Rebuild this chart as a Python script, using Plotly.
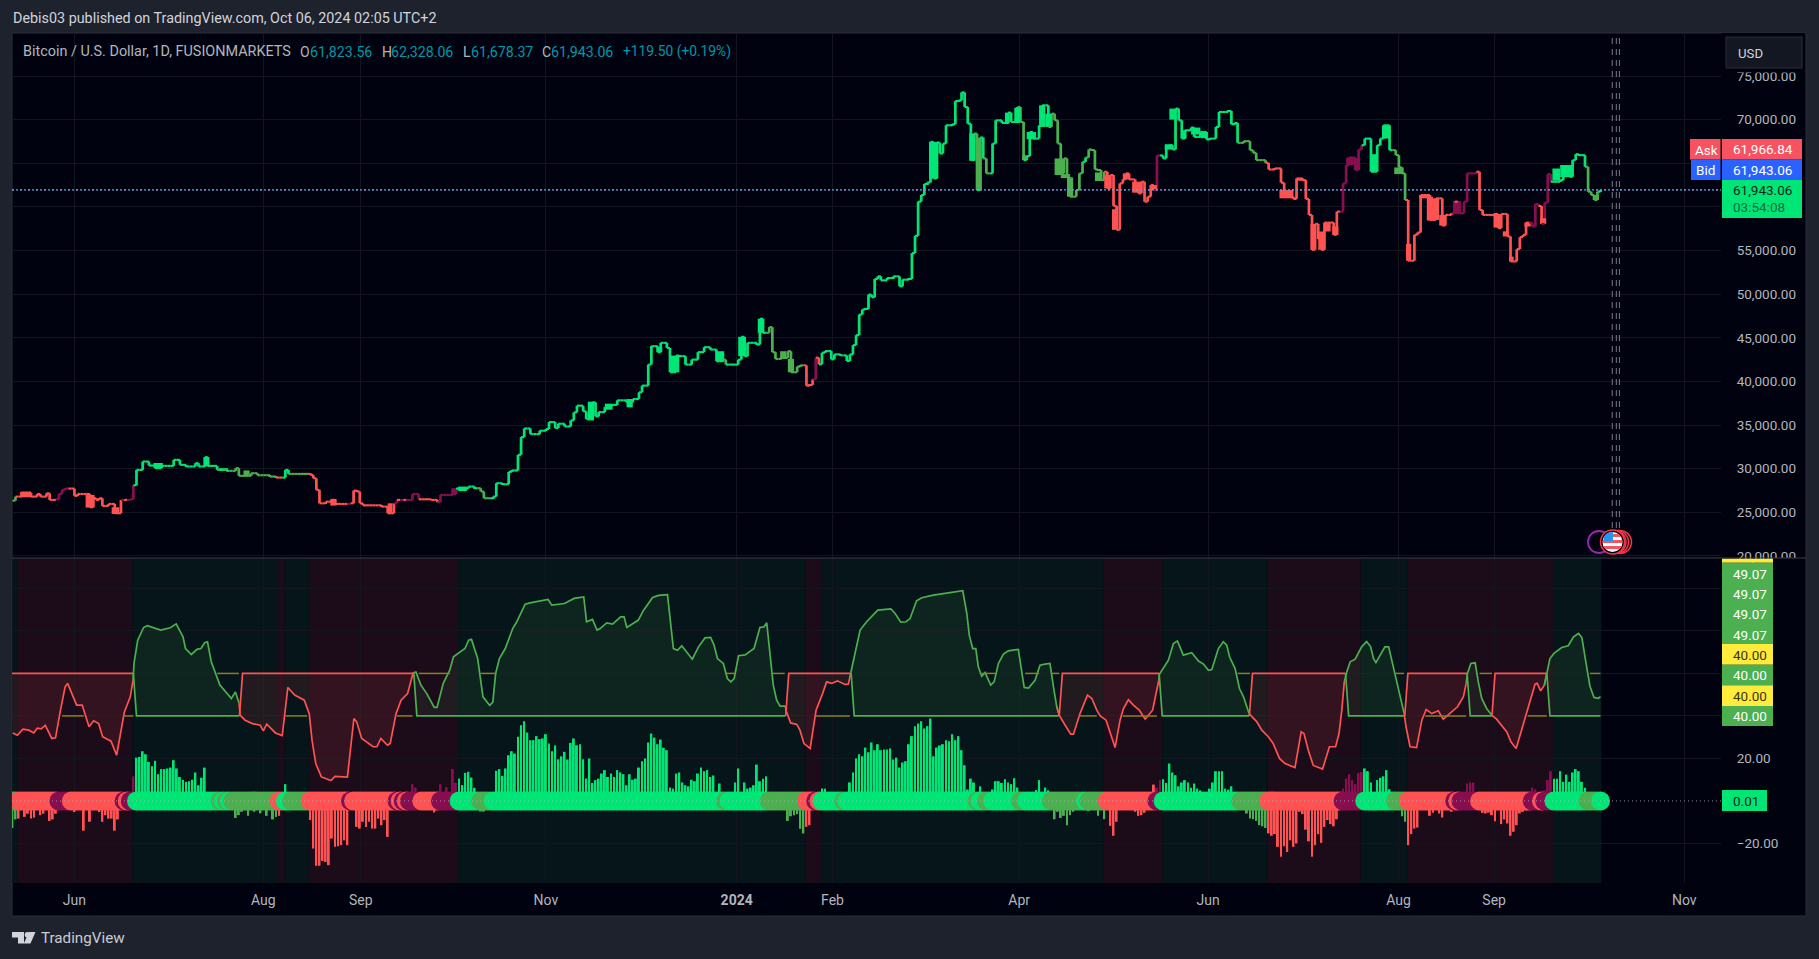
import math
import pandas as pd
import plotly.graph_objects as go

# ---------- data (day = days after the first bar) ----------
FIRST_BAR = "2023-05-11"
LAST_DAY = 513

price_day = [1,2,4,7,9,10,12,13,15,16,17,18,20,21,22,25,26,27,28,29,30,32,34,36,39,40,41,43,45,47,49,53,55,57,60,61,63,64,67,70,73,74,78,80,84,86,89,90,97,98,99,100,102,104,105,110,111,112,113,114,120,122,124,125,129,130,132,136,138,139,143,144,148,150,152,153,156,157,159,161,162,164,165,166,168,171,173,174,176,177,179,181,182,183,185,186,188,189,190,192,194,196,199,201,203,204,206,207,209,210,212,213,215,216,218,220,222,224,226,228,230,231,235,236,237,238,241,242,243,245,246,247,249,251,252,254,255,257,258,259,260,261,262,263,265,266,268,270,271,272,273,274,275,276,277,278,279,280,281,283,285,287,288,290,291,292,293,294,295,296,297,298,299,300,301,302,304,305,306,307,308,309,310,311,312,313,314,315,317,318,320,322,323,325,326,327,328,329,330,332,333,335,336,337,338,339,340,341,342,344,345,346,347,348,349,350,351,352,353,354,355,356,357,358,359,360,361,363,364,365,366,367,368,369,370,372,373,374,375,376,377,378,379,381,382,384,386,387,389,390,393,394,395,396,398,400,401,402,405,406,408,410,411,414,415,417,418,419,420,421,422,423,424,427,428,430,431,432,434,435,436,437,439,441,442,443,445,447,448,449,450,451,453,454,455,458,460,462,463,465,466,467,469,470,473,474,475,479,480,481,483,484,486,487,488,489,491,492,493,494,495,496,497,500,501,503,504,505,506,508,509,510,511,512,513]
price_close = [26340,26800,27260,26800,27100,26800,27180,26420,26490,27100,27570,27720,27720,26880,27100,27100,25580,26610,26420,26610,25730,25960,24890,26420,26490,28100,29860,30820,30360,30060,30320,31010,30440,30250,30630,30250,31320,30320,29860,29750,30060,29180,29480,29250,29100,28980,29860,29400,29290,28900,27570,26030,26220,26420,25960,26030,27490,27380,26030,25800,25650,24890,26030,26420,26420,27100,26490,26420,26150,26990,27100,27720,27950,27760,27380,26610,26800,28330,28220,29630,29790,31590,33620,34610,33960,34350,34540,35340,34650,35150,34840,35530,36450,37220,36570,35690,37600,35990,36490,37060,37300,37830,37600,37980,38750,39520,41930,44040,43350,44420,43840,41050,42960,42890,41930,42500,43350,43920,43650,42310,42500,41930,42500,45110,42890,44420,44230,47180,45570,46220,43350,42580,42700,43460,41050,41700,41840,39500,39600,40240,42720,41960,43290,43480,42530,43100,42980,42340,43100,44160,45300,47660,48240,48310,49950,49640,51740,52040,51580,51850,52040,50900,51660,51740,54700,56680,60600,61360,62620,62810,67450,63260,67370,66120,67260,69350,69470,72130,72200,73120,71450,69540,65360,68400,61930,67950,65550,63840,67260,69920,69620,70800,69730,71450,69730,65360,65810,68590,67830,69350,71640,69160,70680,69920,67260,63840,65550,63380,61170,61930,63840,65170,65660,66580,66500,64290,64220,63070,64030,62120,63650,60110,57370,62690,63150,63840,63150,62690,61550,62880,60600,61170,62500,61930,65890,65550,66960,67070,66580,71260,69920,67830,68780,69090,68020,68590,67720,67830,69160,70880,70990,69470,69620,67340,67530,66500,66200,65360,65050,64290,64410,62770,61170,60910,63260,63070,60910,59080,55080,58050,56300,55080,58200,56800,59460,62690,64790,65660,64220,66580,67070,67830,64030,67070,67830,69350,66500,65930,64520,63840,60790,53830,56800,57060,61360,58510,60980,57860,59080,59270,60600,59270,60600,63840,64030,59650,59080,59190,57560,59190,56610,53750,55160,56530,56800,58200,57750,60330,60110,58050,60490,63760,62880,63070,64410,63460,65360,66040,65930,64600,61740,61360,60790,61740,61943]

# wide solid candle blocks seen in the picture
block_start = [3.5,24.6,33,46.5,63,67.5,75.5,103.5,122,142.5,144.7,186.5,192,199,209,213,228,235,241.3,248.5,251,296.5,309.5,312,321,324,326.5,328,332,334,337,339,341,350,353,355.5,359,362,368,372.5,374,378,381,384,409.5,415,419.5,422,424,426.5,431,433.5,439,443,446.5,450.3,454.5,457,459,461,465.5,478.5,481.5,483.5,488.5,493.5,497.5,500,510.5]
block_end   = [7,27.5,35.5,49.5,64.5,70.5,77.5,105.5,123.5,144.5,147.5,188.5,194.5,201,210.5,216,230.5,237.5,243,250.5,253,299.5,311.5,313.5,322.5,326,328,331,334,336,340,342,343,352,355,357,361,365,370,375,376,379.5,384,386,414,417,421,424,426,428.5,433.5,435.5,441,445,449.5,452,458,459,461,463,468,481,483.5,485,490.5,495.5,500,504,512.5]
block_low   = [26720,25540,24810,30060,30250,29750,29250,25770,24890,27100,27430,35530,36760,37030,43350,41050,42310,42890,45570,42580,41050,63260,65280,61930,69540,69620,65360,67750,69160,69160,63650,63300,61170,62960,62120,57370,63150,61630,61930,66580,70000,67830,68300,67880,60980,63000,55080,55080,57180,56800,64790,64220,64030,67830,63760,53830,60980,58430,58510,57860,59190,57630,56610,53750,57750,58050,63000,63400,60790]
block_high  = [27340,26990,25570,30650,31320,30060,29800,26530,26030,27760,27950,37680,37450,37980,43920,42960,43460,45110,47180,43460,42580,67450,68400,67900,70800,71370,65930,68590,71640,70680,65550,63760,63380,63950,63650,59730,63840,62890,62500,67180,71260,68780,69090,68590,61930,63260,58050,57180,58200,57750,65660,65560,66040,69350,64520,55770,61360,61170,60980,59080,60680,59190,57200,54300,58200,58700,64400,64800,61360]

state_start = [0,3,16,20,37,38,39,41,68,69,70,71,72,87,89,91,97,110,111,125,126,127,128,129,133,139,145,152,156,231,232,245,257,260,261,262,269,270,312,313,315,317,326,328,336,347,348,354,370,372,397,406,430,437,447,451,466,467,468,474,491,494,495,498,509,513]
state_code  = list("ORMRMRMGOGOGORGORMRMRMRMRMGOGOGORMRGOGOGOGOGOGORMGORMGORMRMRMRMGOG")

osc_day = [1.1,2.6,4.4,6.3,7.9,9,10.3,11.6,13.7,14.9,16.5,18,18.8,20,21.7,23.5,24.4,25.7,27.2,28.8,30.1,32.8,34.6,37.1,39,39.9,40.2,41.4,43.3,44.5,46.4,48.8,51.9,53.8,56,56.8,58.7,60.5,61.8,63,63.9,65.1,67.9,69.8,71.6,72.9,74.1,74.4,76,78.4,80.9,81.9,83,85.8,88,89.8,92,95.1,96.7,97.6,98.8,100.6,103.7,105,109,111.1,112,113.6,117.3,118.5,119.8,121.9,122.8,124.7,126.3,128.4,130.2,131.1,132.7,134.6,137,137.9,139.9,142,143.2,146.9,148.1,149,151,152.7,154.9,155.9,156.8,158,159.9,162.3,163.6,166.3,167.9,173.7,174.9,179,182.1,185.2,186.1,188,189.5,190.5,192.6,194.5,197.1,198.2,199.1,201.2,202.8,204.4,207.4,209.3,212.2,214.1,215.4,216.8,218.6,220.2,222.2,224.3,226.1,227.2,228.3,230.2,231.5,232.6,233.7,235.1,237.2,240.1,242,243.3,244.2,245.5,246.3,247.4,248.5,250.2,250.4,251.9,253.9,254.9,256.2,258.2,260.1,262.2,263.5,265.1,267,269.4,270.5,271.3,274.3,276.4,280,284.2,285.6,287.4,289.1,290.4,292.5,294.2,297.9,307.4,308.7,309.5,310.6,311.6,312.4,313.5,314.6,316.4,317.5,318.9,320.5,322.1,324.3,325.3,327.2,328.6,330.7,332.3,333.9,335.5,336.8,337.7,338.5,340.4,342.2,343.1,345.2,347.6,349,350.6,351.7,353.6,354.9,356.5,358.1,359.2,360.8,362.4,364.3,366.2,368.6,370.6,370.8,373.7,375.3,376.6,378.5,381.2,383.4,385,386.6,387.7,389.8,391.4,392.5,393.4,395.2,396.6,397.9,399.7,402.2,403.8,405.9,407.5,409.5,411.3,414.5,416.5,417.4,418.8,420.4,423.4,425.6,427.6,428.7,429.6,430.4,431.2,432.3,433.9,436,437.6,438.9,439.8,440.6,443.5,444.7,446.8,449.7,450.3,451.6,453.7,455.4,456.8,458.6,460.7,462.3,464.5,466.9,468.8,469.7,470.1,471.2,472.6,473.6,474.7,476.3,477.9,479.5,482.8,484.1,485.8,488.1,489.7,491.9,492.6,493.7,494.9,495.7,496.7,498,500.5,502.6,504.3,505.9,507,508,509.6,510.9,512.3,513]
osc_val = [32,30.9,33.8,33.3,32,34.2,33.9,35.6,29.4,29.7,42.7,53.7,55.3,51.3,45.1,45.1,41.1,34.9,37.7,36.4,30.2,28.1,21.5,41.9,49,56.8,64.7,75.6,81.6,82.5,81.6,80.4,81.5,83.3,77.2,71.7,68.9,71.3,71.7,74.5,74.9,65.5,54.5,51.3,48.2,51.3,45.8,40.4,38,36.4,35.6,33,36.1,32,30.8,53.4,49.8,47.4,41.1,28.6,17.6,11.3,9.6,11.6,11.2,38.8,37.2,29.4,25.5,25.5,29.4,26.2,27,41.1,47.4,50.5,60.3,60.7,54.5,50.5,44,44,55.3,61.5,67.8,71.7,75.6,76,67,49,44.9,46.6,60,67,71.7,81.1,84.3,92.6,93.2,94.8,92.1,92.9,95.3,96,84.3,85.4,80.4,81.1,83.8,83.2,86.6,86.6,81.6,83.8,85.1,89.5,95.7,96.7,97,71.7,70.9,73,69.4,66.7,72.5,76.7,76.9,73.3,67,64.7,57.6,56,57.6,68.3,68.7,71.7,81.6,81.9,83.8,66.2,54.5,47.4,44.6,44.6,42.7,36.7,36,33.3,27,24.7,42.7,50.5,56,55.3,56.5,54.8,54.9,60.3,80.4,84.3,89.8,90.4,88.2,84.1,84.3,85.8,94.2,95.6,96.8,98.9,88.2,78,71.7,71.7,63.1,58.7,60.4,54.5,56,64.7,69.1,70.6,70.9,71.3,53.4,53.1,56.8,63.9,64.4,64.7,52.1,44.3,40.4,35.6,31.4,31.4,41.1,49.8,48.2,42.7,40,38,31.7,25.1,38,43.5,47.6,45.1,42.7,38.5,42.7,56.8,59.6,66.2,74.1,75.3,68.6,69.7,65.8,64.4,61.5,61.8,71.7,74.9,73.3,67.8,62.3,52.9,49,41.1,37.2,33.3,30.2,27,20,17.6,15.7,32.5,31.7,23.9,16.7,15,25.5,25.5,31.7,42.7,56,60.7,65.5,66.7,72.5,75,72.5,67,65.1,72.5,72.5,59.2,41.1,34.9,25.5,25.1,38,43,41.1,42.4,38.5,41.1,44.3,49,55.3,60,64.7,65,56,48.2,43.5,40.4,38.5,32.5,27.8,24.7,36.4,43.5,54.9,55.3,51.8,54.5,60,67,69.4,72.2,73,77.2,78.8,76.9,67.8,54,48.7,48.3,49.1]

regime_end  = [40,74.2,130.4,250.3,271.4,338.5,370.7,399.8,430.8,449.9,470,478,495.7,513]
regime_code = list("RGRGRGRGRGRGRG")

bg_edge = [0,3,40,87,89,97,145,257,262,353,372,406,436,451,498,513]
bg_code = list("GRGRGRGRGRGRGRG")

upper_start = [67,132,152,231,246,313.5,327.5,336,396,446.7,474,509.6]
upper_end   = [74,142,157,234,250,318,332,338.5,400,449.7,478,513]
lower_start = [17,37,89,125,260,345,359,456.5,489.5]
lower_end   = [24,40,96,130,271,350.6,370,469.7,495.7]

hist_day = [1,2,3,5,6,7,8,10,11,13,14,15,21,24,26,29,30,31,32,33,34,35,40,41,42,43,44,45,46,47,48,49,50,51,52,53,54,55,56,57,58,59,60,61,62,63,73,74,75,77,79,81,83,85,86,87,89,97,98,99,100,101,102,103,104,105,106,107,108,109,112,113,114,115,116,117,118,119,120,121,122,130,131,137,139,141,143,144,145,146,147,148,149,150,152,153,157,158,159,160,161,162,163,164,165,166,167,168,169,170,171,172,173,174,175,176,177,178,179,180,181,182,183,184,185,186,187,188,189,190,191,192,193,194,195,196,197,198,199,200,201,202,203,204,205,206,207,208,209,210,211,212,213,214,215,216,217,218,219,220,221,222,223,224,225,226,227,229,234,235,237,238,239,240,241,242,243,244,251,252,253,254,255,256,257,258,262,263,271,272,273,274,275,276,277,278,279,280,281,282,283,284,285,286,287,288,289,290,291,292,293,294,295,296,297,298,299,300,301,302,303,304,305,306,307,308,309,310,311,313,317,318,319,320,321,322,323,324,325,331,332,334,335,337,338,339,340,341,342,343,348,351,353,355,356,357,363,364,365,366,369,370,371,372,373,374,375,376,377,378,379,380,381,382,383,384,387,388,389,390,391,392,393,394,399,400,401,402,403,404,405,406,407,408,409,410,411,412,413,414,415,416,417,418,419,420,421,422,423,424,425,426,427,428,430,431,432,433,434,435,436,437,438,439,441,442,443,444,445,449,450,451,452,453,454,458,459,461,462,465,470,471,472,475,476,477,478,479,481,482,483,484,485,486,487,488,491,492,495,496,497,498,499,500,501,502,503,504,505,506,507,508]
hist_val = [-12.7,-8.7,-8.3,-7.5,-6,-8.3,-7.8,-6.7,-6,-9.4,-8.7,-6,-5.2,-14,-9.8,-5.2,-9.8,-6.7,-8.3,-8.3,-14,-8.7,11.6,20.4,20.7,23.4,22,18.4,16.3,18.9,12.6,15,15,15.3,15.7,19.2,15.3,11.3,9.8,9,9.3,10,13.4,7.4,10.9,15.7,-8,-6.7,-5.1,-7,-5.1,-5.8,-7,-8.7,-7.5,-7,7.9,-9,-22.4,-30.5,-30.5,-28.2,-28.7,-30.2,-17.7,-21.6,-21.3,-20.8,-18.5,-20.8,-12.2,-13,-9.8,-12.2,-9.8,-13,-13,-8.3,-11.4,-9,-16.9,7.9,6.3,-5.4,7.9,6.5,15,8.5,10.5,7.5,13.2,13.7,11,6.2,-5,-5,14.2,15,11.8,15.3,21.5,23.4,22.3,30.2,35.6,37.5,32.2,28.6,28.6,30.5,29.1,29.4,31.4,27,23.4,26.1,19.6,21,23.1,19.5,27.3,29.4,26.2,26.7,19.6,10.5,20,8.5,9.8,10.5,12.9,14.5,11.3,12.9,11.3,14.5,13.4,12.6,7.4,12.6,10,10.5,15.7,18.7,20,27.5,31.7,29.8,26.7,28.9,25,23.9,6.3,5.8,12.9,13.4,8.7,7.4,6.9,10,9.3,12.9,15.7,14,14.5,11.3,12,8.2,8.7,15.3,8.7,5.8,6.3,7.4,17.1,9.3,10.5,11.6,-9.4,-7.2,-6.7,-6.2,-13.1,-15.3,-12.2,-11.4,5.8,5.8,8.7,13.4,20,22,21,25.1,22.9,27.5,23.9,26.7,23.9,24.2,24.2,24.7,19.5,20.4,15.7,18.1,18.7,26.7,30.5,35.2,36.4,37.5,34.1,35.2,38.8,21,25.1,26.1,26.7,28.6,28.1,31.4,28.6,30.5,23.9,16.8,5.4,10.5,8.7,6.9,5.4,9.3,9.3,8.5,10.2,8.7,7.9,10.7,6.3,5.1,9.8,6.3,5,-8.6,-5.1,-8,-7,-11.4,-6.7,-5.1,-4.8,-7,-8.6,-11.7,-16.4,-9.8,-5.1,-7,-6.7,-5.6,7.7,6.3,9.8,10.2,8.5,17.6,13.4,12.1,6.9,8.7,9.8,8.7,6.2,8.2,5.8,5,5.8,8.7,14,14,14,5.8,5.3,6.9,-5.9,-8.3,-8.6,-9.4,-11.4,-11.9,-12.7,-15.3,-16.4,-15.6,-21.6,-26.3,-21.3,-24,-18.5,-21.6,-20,-5.1,-6.2,-13.5,-19,-26.3,-20.8,-15.6,-19.7,-12.2,-9,-10.9,-11.9,-8.6,5.8,10.5,12.6,9.8,7.9,13.2,13.7,15.3,14,8.7,9.8,10.9,11.6,14.5,5.5,-7.2,-9.8,-20.8,-15.6,-13,-12.5,-7,-5.5,-5.9,-7.8,-5.1,8.2,8.7,8.7,-5.6,-5.9,-5.5,-6.7,-9.5,-10.9,-8.7,-10.6,-16.4,-14.5,-11.4,-5.9,-5.1,6.3,5.4,5,9.8,14,10.5,10.5,14,9,12.4,9,13.4,15,14,9,6.2]

event_day = [516.8,518.1,519.1]
last_price = 61943.06

price_ticks = [20000,25000,30000,35000,40000,45000,50000,55000,60000,65000,70000,75000]
price_text = ["20,000.00","25,000.00","30,000.00","35,000.00","40,000.00","45,000.00","50,000.00","55,000.00","","","70,000.00","75,000.00"]
osc_ticks = [-20,20,40,60,80,100]
osc_text = ["\u221220.00","20.00","","","",""]
# the time axis counts trading bars, so month starts fall on these bar positions
month_tick_day = [21,81.9,113.3,173,234.5,265.4,325.6,386.5,447.9,478.7,540]
month_text = ["Jun","Aug","Sep","Nov","<b>2024</b>","Feb","Apr","Jun","Aug","Sep","Nov"]

# ---------- style ----------
BRIGHT, OLIVE, RED, MAROON = "#00E676", "#4CAF50", "#FF5252", "#880E4F"
COL = {"G": BRIGHT, "O": OLIVE, "R": RED, "M": MAROON}
OUTER, PANEL, GRID, FRAME = "#1E222D", "#00030F", "#12161F", "#2A2E39"
TEXT, AXIS = "#C9CCD4", "#B2B5BE"
FONT = "Roboto"
L, R, T, S, B, E = 12, 1721, 33, 558, 883, 1806

def day(d):
    return pd.Timestamp(FIRST_BAR) + pd.Timedelta(days=float(d))

def state_on(d):
    c = state_code[0]
    for s, k in zip(state_start, state_code):
        if d >= s:
            c = k
    return c

def px(x):
    return (x - L) / (R - L)

def py(y):
    return (B - y) / (B - T)

x_range = [day(0.87), day(551.85)]
fig = go.Figure()
DAY_MS = 86400000
tick_dates = [day(d) for d in month_tick_day]

# ---------- price: candle bodies, wide blocks, thin level lines ----------
body_x, body_base, body_h, body_c = [], [], [], []
seg = {k: ([], []) for k in COL}
for a, pa, b, pb in zip(price_day[:-1], price_close[:-1], price_day[1:], price_close[1:]):
    body_x.append(day(b))
    body_base.append(min(pa, pb))
    body_h.append(abs(pb - pa))
    body_c.append(COL[state_on(b)])
    for d in range(a + 1, b + 1):
        xs, ys = seg[state_on(d)]
        xs += [day(d - 1), day(d), None]
        ys += [pa, pa, None]
fig.add_trace(go.Bar(x=body_x, y=body_h, base=body_base, xaxis="x", yaxis="y", width=0.88 * DAY_MS,
                     marker=dict(color=body_c, line=dict(width=0))))
fig.add_trace(go.Bar(x=[day((s + e) / 2) for s, e in zip(block_start, block_end)],
                     y=[h - l for h, l in zip(block_high, block_low)], base=block_low,
                     width=[(e - s) * DAY_MS for s, e in zip(block_start, block_end)], xaxis="x", yaxis="y",
                     marker=dict(color=[COL[state_on((s + e) / 2)] for s, e in zip(block_start, block_end)], line=dict(width=0))))
for k, (xs, ys) in seg.items():
    fig.add_trace(go.Scatter(x=xs, y=ys, mode="lines", xaxis="x", yaxis="y", line=dict(color=COL[k], width=2.1)))
for color, dash in [("#2EC4E8", "2px,2px"), ("#D05CD8", "2px,6px")]:
    fig.add_trace(go.Scatter(x=x_range, y=[last_price, last_price], mode="lines", xaxis="x", yaxis="y",
                             line=dict(color=color, width=1.2, dash=dash)))

# ---------- oscillator ----------
prev_end, prev_level = None, None
for end, code in zip(regime_end, regime_code):
    level = 60 if code == "R" else 40
    color = RED if code == "R" else OLIVE
    start = 0 if prev_end is None else prev_end
    sig_x = [start, end] if prev_end is None else [prev_end, prev_end + 1, end]
    sig_y = [level, level] if prev_end is None else [prev_level, level, level]
    od = [d for d in osc_day if start <= d <= end]
    ov = [v for d, v in zip(osc_day, osc_val) if start <= d <= end]
    if prev_end is not None:
        before = [i for i, d in enumerate(osc_day) if d < start][-1]
        od = [osc_day[before]] + od
        ov = [osc_val[before]] + ov
    fill = "rgba(255,82,82,0.11)" if code == "R" else "rgba(76,175,80,0.10)"
    fig.add_trace(go.Scatter(x=[day(d) for d in sig_x + od[::-1]], y=sig_y + ov[::-1], mode="none",
                             fill="toself", fillcolor=fill, xaxis="x2", yaxis="y2"))
    fig.add_trace(go.Scatter(x=[day(d) for d in sig_x], y=sig_y, mode="lines", xaxis="x2", yaxis="y2",
                             line=dict(color=color, width=1.7)))
    fig.add_trace(go.Scatter(x=[day(d) for d in od], y=ov, mode="lines", xaxis="x2", yaxis="y2",
                             line=dict(color=color, width=1.7)))
    prev_end, prev_level = end, level

for starts, ends, lvl in [(upper_start, upper_end, 60), (lower_start, lower_end, 40)]:
    xs, ys = [], []
    for a, b in zip(starts, ends):
        xs += [day(a), day(b), None]
        ys += [lvl, lvl, None]
    fig.add_trace(go.Scatter(x=xs, y=ys, mode="lines", xaxis="x2", yaxis="y2",
                             line=dict(color="#8F7F22", width=1.5)))

fig.add_trace(go.Bar(x=[day(d) for d in hist_day], y=hist_val, xaxis="x2", yaxis="y2",
                     marker=dict(color=[COL[state_on(d)] for d in hist_day], line=dict(width=0)),
                     width=0.62 * DAY_MS))
all_days = list(range(0, LAST_DAY + 1))
fig.add_trace(go.Scatter(x=[day(d) for d in all_days], y=[0] * len(all_days), mode="markers", xaxis="x2", yaxis="y2",
                         marker=dict(size=19, color=[COL[state_on(d)] for d in all_days], line=dict(width=0))))
fig.add_trace(go.Scatter(x=x_range, y=[0, 0], mode="lines", xaxis="x2", yaxis="y2",
                         line=dict(color="rgba(178,181,190,0.75)", width=1, dash="1px,3px")))

# ---------- chrome ----------
def rect(x0, y0, x1, y1, fill, line=None, layer="above"):
    return dict(type="rect", xref="paper", yref="paper", x0=px(x0), x1=px(x1), y0=py(y1), y1=py(y0),
                fillcolor=fill, line=dict(color=line or fill, width=1 if line else 0), layer=layer)

def disc(cx, cy, r, fill, line=None, w=2):
    return dict(type="circle", xref="paper", yref="paper", x0=px(cx - r), x1=px(cx + r), y0=py(cy + r), y1=py(cy - r),
                fillcolor=fill, line=dict(color=line or fill, width=w if line else 0), layer="above")

def poly(points, fill):
    p = "M " + " L ".join(f"{px(x):.6f},{py(y):.6f}" for x, y in points) + " Z"
    return dict(type="path", xref="paper", yref="paper", path=p, fillcolor=fill, line=dict(width=0), layer="above")

shapes = [rect(L, T, E, 916, PANEL, FRAME, "below")]
for i, code in enumerate(bg_code):
    shapes.append(dict(type="rect", xref="x2", yref="y2 domain", x0=day(bg_edge[i] - 0.3), x1=day(bg_edge[i + 1] + 0.3 if i == len(bg_code) - 1 else bg_edge[i + 1] - 0.3),
                       y0=0, y1=1, fillcolor="#1C0C1A" if code == "R" else "#06151A", line=dict(width=0), layer="below"))
for d in event_day:
    shapes.append(dict(type="line", xref="x", yref="paper", x0=day(d), x1=day(d), y0=py(528), y1=1,
                       line=dict(color="#787B86", width=1, dash="6px,5px"), layer="above"))

shapes += [rect(1722, 33, 1805, 72.5, PANEL), rect(1773, S, 1805, 567, PANEL),
           dict(type="line", xref="paper", yref="paper", x0=0, x1=px(E), y0=py(S), y1=py(S),
                line=dict(color="#3A3E49", width=1.2), layer="above")]
shapes.append(rect(1726, 37, 1802, 68, "#131722", "#2A2E39"))
shapes += [rect(1690, 139, 1720.5, 159.5, "#F7525F"), rect(1691, 159.5, 1720.5, 180, "#2962FF"),
           rect(1722, 139, 1802, 159.5, "#F7525F"), rect(1722, 159.5, 1802, 180, "#2962FF"),
           rect(1722, 180, 1802, 218, BRIGHT)]
shapes += [rect(1722, 558.7, 1773, 562.7, "#FFEB3B"), rect(1722, 562.7, 1773, 644, OLIVE),
           rect(1722, 644, 1773, 664.7, "#FFEB3B"), rect(1722, 664.7, 1773, 685.3, OLIVE),
           rect(1722, 685.3, 1773, 706, "#FFEB3B"), rect(1722, 706, 1773, 726, OLIVE),
           rect(1722, 790, 1767, 811, BRIGHT)]

# event icons
shapes.append(disc(1599, 542, 11, PANEL, "#9C27B0", 1.8))
for cx in (1620, 1617, 1614.5):
    shapes.append(disc(cx, 542, 11.5, PANEL, "#F23645", 1.5))
shapes.append(disc(1612.5, 542, 12, PANEL, "#F23645", 1.5))
shapes.append(disc(1612.5, 542, 10, "#FFFFFF"))
def chord(yt, yb, r=10, cx=1612.5, cy=542):
    pts = []
    for y in (yt, yb):
        hw = math.sqrt(max(r * r - (y - cy) ** 2, 0))
        pts.append((cx - hw, y))
    for y in (yb, yt):
        hw = math.sqrt(max(r * r - (y - cy) ** 2, 0))
        pts.append((cx + hw, y))
    return poly(pts, "#F7525F")
for yt, yb in [(534, 537), (540, 543), (546, 549)]:
    shapes.append(chord(yt, yb))
shapes.append(poly([(1606, 534), (1609, 532.5), (1613, 532), (1613, 541), (1603.5, 541), (1604, 537)], "#2196F3"))

# logo
shapes += [poly([(12, 932), (24, 932), (24, 943.5), (18, 943.5), (18, 937.5), (12, 937.5)], "#D1D4DC"),
           disc(27.5, 934.8, 2.8, "#D1D4DC"),
           poly([(29, 932), (35.5, 932), (30.5, 943.5), (23.8, 943.5)], "#D1D4DC")]

def note(x, y, text, color=TEXT, size=13.5, anchor="left"):
    return dict(x=px(x), y=py(y), xref="paper", yref="paper", text=text, showarrow=False, xanchor=anchor,
                yanchor="middle", borderpad=0, font=dict(family=FONT, size=size, color=color))

DARK = "#0B1F17"
notes = [note(11.5, 18, "Debis03 published on TradingView.com, Oct 06, 2024 02:05 UTC+2", "#D1D4DC", 14.35),
         note(22, 51.8, "Bitcoin / U.S. Dollar, 1D, FUSIONMARKETS", AXIS, 14.4),
         note(299, 51.8, "O", AXIS, 14), note(309, 51.8, "61,823.56", "#0097A7", 14.2),
         note(381, 51.8, "H", AXIS, 14), note(390, 51.8, "62,328.06", "#0097A7", 14.2),
         note(462, 51.8, "L", AXIS, 14), note(470, 51.8, "61,678.37", "#0097A7", 14.2),
         note(541, 51.8, "C", AXIS, 14), note(550, 51.8, "61,943.06", "#0097A7", 14.2),
         note(622, 51.8, "+119.50 (+0.19%)", "#0097A7", 13.8),
         note(1737, 53, "USD", "#D1D4DC", 13.2),
         note(1694, 150, "Ask", "#FFFFFF", 13.5), note(1695, 170, "Bid", "#FFFFFF", 13.5),
         note(1732, 149, "61,966.84", "#FFFFFF", 13.5), note(1732, 170, "61,943.06", "#FFFFFF", 13.5),
         note(1732, 190, "61,943.06", DARK, 13.5), note(1732, 207, "03:54:08", "#0A6B3F", 13.5),
         note(1732, 811 - 10.5, "0.01", DARK, 13.5),
         note(40, 938, "TradingView", "#C9CCD4", 15.2)]
for y, t, c in [(574, "49.07", "#FFFFFF"), (594, "49.07", "#FFFFFF"), (614, "49.07", "#FFFFFF"), (635, "49.07", "#FFFFFF"),
                (655, "40.00", "#3A3410"), (675, "40.00", "#FFFFFF"), (696, "40.00", "#3A3410"), (716, "40.00", "#FFFFFF")]:
    notes.append(note(1732, y, t, c, 13.5))

axis_common = dict(showline=False, zeroline=False, gridcolor=GRID, gridwidth=1, showspikes=False)
fig.update_layout(
    width=1819, height=959, autosize=False, showlegend=False, hovermode=False, barmode="overlay",
    paper_bgcolor=OUTER, plot_bgcolor=PANEL,
    margin=dict(l=L, r=1819 - R, t=T, b=959 - B, pad=0),
    font=dict(family=FONT, color=AXIS, size=13.5),
    shapes=shapes, annotations=notes,
    xaxis=dict(axis_common, domain=[0, 1], range=x_range, anchor="y", tickmode="array", tickvals=tick_dates,
               ticktext=[""] * len(tick_dates), ticks=""),
    xaxis2=dict(axis_common, domain=[0, 1], range=x_range, anchor="y2", tickmode="array", tickvals=tick_dates,
                ticktext=month_text, ticks="outside", ticklen=4, tickcolor=PANEL, tickfont=dict(size=14, color=AXIS, family=FONT)),
    yaxis=dict(axis_common, domain=[(B - S) / (B - T), 1], range=[19763, 79928], side="right", anchor="x", tickmode="array",
               tickvals=price_ticks, ticktext=price_text, ticks="outside", ticklen=12, tickcolor=PANEL,
               tickfont=dict(size=13.5, color=AXIS, family=FONT)),
    yaxis2=dict(axis_common, domain=[0, (B - S) / (B - T)], range=[-38.6, 114.3], side="right", anchor="x2", tickmode="array",
                tickvals=osc_ticks, ticktext=osc_text, ticks="outside", ticklen=12, tickcolor=PANEL,
                tickfont=dict(size=13.5, color=AXIS, family=FONT)),
)

fig.write_html("out.html", config={"displayModeBar": False},
               post_script="document.body.style.margin='0';document.documentElement.style.overflow='hidden';")
